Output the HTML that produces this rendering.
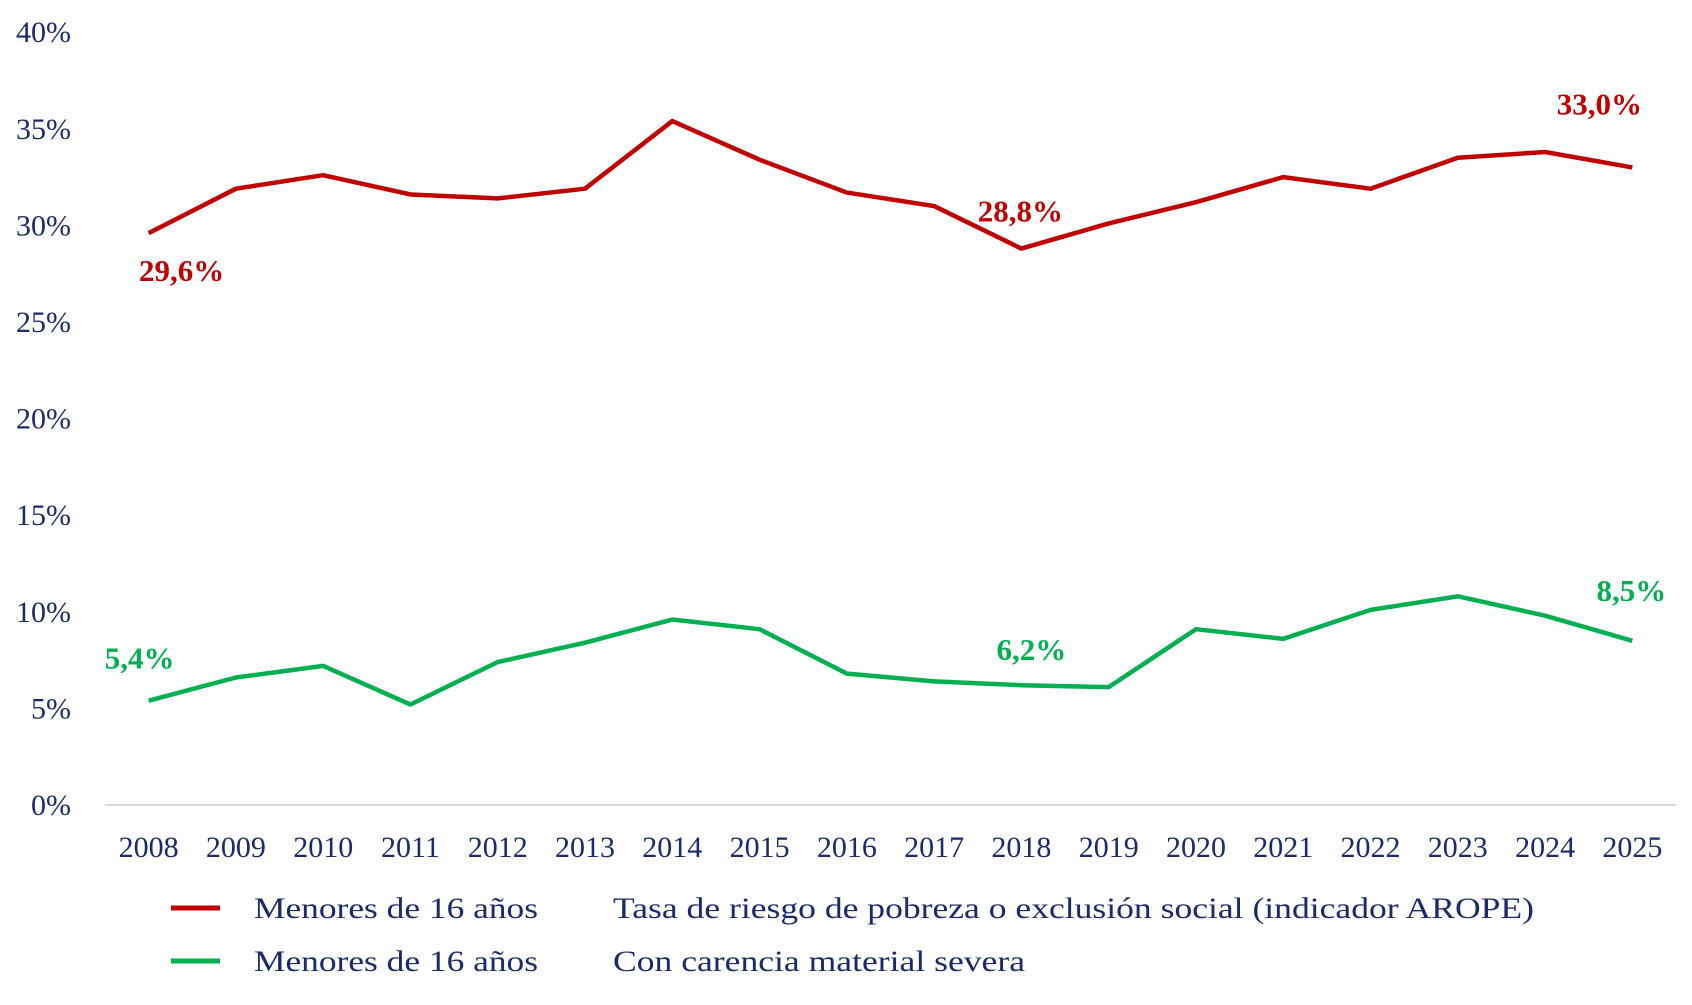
<!DOCTYPE html>
<html><head><meta charset="utf-8"><style>
body{margin:0;background:#fff}
svg text{font-family:"Liberation Serif",serif}
</style></head><body>
<svg id="chart" width="1692" height="1000" xmlns="http://www.w3.org/2000/svg"></svg>
<script>
const years=["2008","2009","2010","2011","2012","2013","2014","2015","2016","2017","2018","2019","2020","2021","2022","2023","2024","2025"];
const aropeValues=[29.6,31.9,32.6,31.6,31.4,31.9,35.4,33.4,31.7,31.0,28.8,30.1,31.2,32.5,31.9,33.5,33.8,33.0];
const carenciaValues=[5.4,6.6,7.2,5.2,7.4,8.4,9.6,9.1,6.8,6.4,6.2,6.1,9.1,8.6,10.1,10.8,9.8,8.5];
const yTicks=[0,5,10,15,20,25,30,35,40];
const aropeLabels=[[0,"29,6%"],[10,"28,8%"],[17,"33,0%"]];
const carenciaLabels=[[0,"5,4%"],[10,"6,2%"],[17,"8,5%"]];

const svg=document.getElementById('chart');
const NS="http://www.w3.org/2000/svg";
const x0=105,x1=1676,y0=805,pxPer=96.6/5;
const band=(x1-x0)/years.length;
const X=i=>x0+band*(i+0.5);
const Y=v=>y0-v*pxPer;
function mk(tag,attrs,parent){const e=document.createElementNS(NS,tag);for(const k in attrs)e.setAttribute(k,attrs[k]);(parent||svg).appendChild(e);return e;}

const axis=mk('line',{x1:x0,x2:x1,y1:y0,y2:y0,stroke:'#d9d9d9','stroke-width':2});



yTicks.forEach(t=>{
  const e=mk('text',{x:71,y:Y(t)+10,'text-anchor':'end','font-size':30,fill:'#1a2a6c'});
  e.textContent=t+'%';
  
  
});
years.forEach((yr,i)=>{
  const e=mk('text',{x:X(i),y:857,'text-anchor':'middle','font-size':30,fill:'#1a2a6c'});
  e.textContent=yr;
  
  
});

function series(vals,color,name){
  const p=mk('polyline',{points:vals.map((v,i)=>X(i)+','+Y(v)).join(' '),fill:'none',stroke:color,'stroke-width':4.5,'stroke-linejoin':'round'});
  
  
}
series(aropeValues,'#c00000','arope-line');
series(carenciaValues,'#00b050','carencia-line');

function labels(arr,vals,color,offsets,name){
  arr.forEach(([i,t],k)=>{
    const e=mk('text',{x:X(i)+offsets[k][0],y:Y(vals[i])+offsets[k][1],'text-anchor':'middle','font-size':31,'font-weight':'bold',fill:color});
    e.textContent=t;
    
    
  });
}
labels(aropeLabels,aropeValues,'#c00000',[[33,48],[-1,-27],[-33,-53]],'arope-value-label');
labels(carenciaLabels,carenciaValues,'#00b050',[[-9,-32],[10,-25],[-1,-40]],'carencia-value-label');

function legend(y,color,text,w,name){
  const g=mk('g',{});
  
  
  mk('line',{x1:171,x2:220,y1:y,y2:y,stroke:color,'stroke-width':5},g);
  const a=mk('text',{x:254,y:y+10,'font-size':30,fill:'#1a2a6c',textLength:284,lengthAdjust:'spacingAndGlyphs'},g);a.textContent='Menores de 16 años';
  const b=mk('text',{x:613,y:y+10,'font-size':30,fill:'#1a2a6c',textLength:w,lengthAdjust:'spacingAndGlyphs'},g);b.textContent=text;
}
legend(908,'#c00000','Tasa de riesgo de pobreza o exclusión social (indicador AROPE)',921,'legend-entry-arope');
legend(961,'#00b050','Con carencia material severa',412,'legend-entry-carencia');
</script>
</body></html>
